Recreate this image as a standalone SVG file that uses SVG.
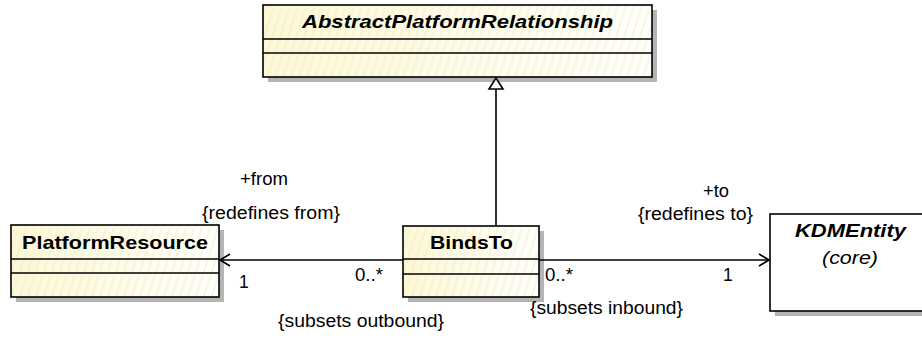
<svg xmlns="http://www.w3.org/2000/svg" width="922" height="338" viewBox="0 0 922 338">
<style>
.shadow{fill:#b4b4b4;stroke:none}
.plain{fill:#fff;stroke:#000;stroke-width:1.6}
.div{stroke:#000;stroke-width:1.6}
.name{font-family:"Liberation Sans",Arial,sans-serif;font-size:19px;font-weight:bold;fill:#000}
.it{font-style:italic}
.lbl{font-family:"Liberation Sans",Arial,sans-serif;font-size:17.5px;fill:#000}
.edge{stroke:#000;stroke-width:1.6;fill:none}
</style>
<defs>
<linearGradient id="grad" x1="0" y1="0" x2="1" y2="0">
<stop offset="0" stop-color="#fdf8d4"/>
<stop offset="1" stop-color="#fffffa"/>
</linearGradient>
<pattern id="lines" width="8" height="8" patternUnits="userSpaceOnUse" patternTransform="skewX(-18)">
<line x1="4" y1="0" x2="4" y2="8" stroke="#ebe6cc" stroke-width="0.7"/>
</pattern>
</defs>

<g id="node-abstract">
<rect class="shadow" x="268" y="10" width="389" height="72"/>
<rect x="263" y="5" width="389" height="72" fill="url(#grad)"/>
<rect x="263" y="5" width="389" height="72" fill="url(#lines)"/>
<rect x="263" y="5" width="389" height="72" fill="none" stroke="#000" stroke-width="1.6"/>
<line class="div" x1="263" y1="39" x2="652" y2="39"/>
<line class="div" x1="263" y1="53" x2="652" y2="53"/>
<text class="name it" x="302" y="28" textLength="311" lengthAdjust="spacingAndGlyphs">AbstractPlatformRelationship</text>
</g>

<g id="node-platformresource">
<rect class="shadow" x="16" y="230" width="208" height="72"/>
<rect x="11" y="225" width="208" height="72" fill="url(#grad)"/>
<rect x="11" y="225" width="208" height="72" fill="url(#lines)"/>
<rect x="11" y="225" width="208" height="72" fill="none" stroke="#000" stroke-width="1.6"/>
<line class="div" x1="11" y1="259" x2="219" y2="259"/>
<line class="div" x1="11" y1="273" x2="219" y2="273"/>
<text class="name" x="22" y="249" textLength="186" lengthAdjust="spacingAndGlyphs">PlatformResource</text>
</g>

<g id="node-bindsto">
<rect class="shadow" x="408" y="231" width="136" height="71"/>
<rect x="403" y="226" width="136" height="71" fill="url(#grad)"/>
<rect x="403" y="226" width="136" height="71" fill="url(#lines)"/>
<rect x="403" y="226" width="136" height="71" fill="none" stroke="#000" stroke-width="1.6"/>
<line class="div" x1="403" y1="259" x2="539" y2="259"/>
<line class="div" x1="403" y1="274" x2="539" y2="274"/>
<text class="name" x="430" y="249" textLength="83" lengthAdjust="spacingAndGlyphs">BindsTo</text>
</g>

<g id="node-kdmentity">
<rect class="shadow" x="775" y="219" width="160" height="97"/>
<rect class="plain" x="770" y="214" width="160" height="97"/>
<text class="name it" x="795" y="237" textLength="111" lengthAdjust="spacingAndGlyphs">KDMEntity</text>
<text class="lbl it" x="822" y="264" font-size="18" textLength="56" lengthAdjust="spacingAndGlyphs">(core)</text>
</g>

<g id="connectors">
<line class="edge" x1="496" y1="226" x2="496" y2="89"/>
<polygon points="496,78 489,89 503,89" fill="#fff" stroke="#000" stroke-width="1.6"/>
<line class="edge" x1="403" y1="260" x2="220" y2="260"/>
<polyline class="edge" points="230,254 220,260 230,266"/>
<line class="edge" x1="539" y1="260" x2="769" y2="260"/>
<polyline class="edge" points="759,254 769,260 759,266"/>
</g>

<g id="labels">
<text class="lbl" x="240" y="185" textLength="48" lengthAdjust="spacingAndGlyphs">+from</text>
<text class="lbl" x="202" y="219" textLength="138" lengthAdjust="spacingAndGlyphs">{redefines from}</text>
<text class="lbl" x="239" y="288">1</text>
<text class="lbl" x="355" y="281" textLength="28" lengthAdjust="spacingAndGlyphs">0..*</text>
<text class="lbl" x="278" y="327" textLength="166" lengthAdjust="spacingAndGlyphs">{subsets outbound}</text>
<text class="lbl" x="703" y="197" textLength="26" lengthAdjust="spacingAndGlyphs">+to</text>
<text class="lbl" x="638" y="220" textLength="115" lengthAdjust="spacingAndGlyphs">{redefines to}</text>
<text class="lbl" x="545" y="281" textLength="28" lengthAdjust="spacingAndGlyphs">0..*</text>
<text class="lbl" x="723" y="281">1</text>
<text class="lbl" x="530" y="314" textLength="153" lengthAdjust="spacingAndGlyphs">{subsets inbound}</text>
</g>
</svg>
